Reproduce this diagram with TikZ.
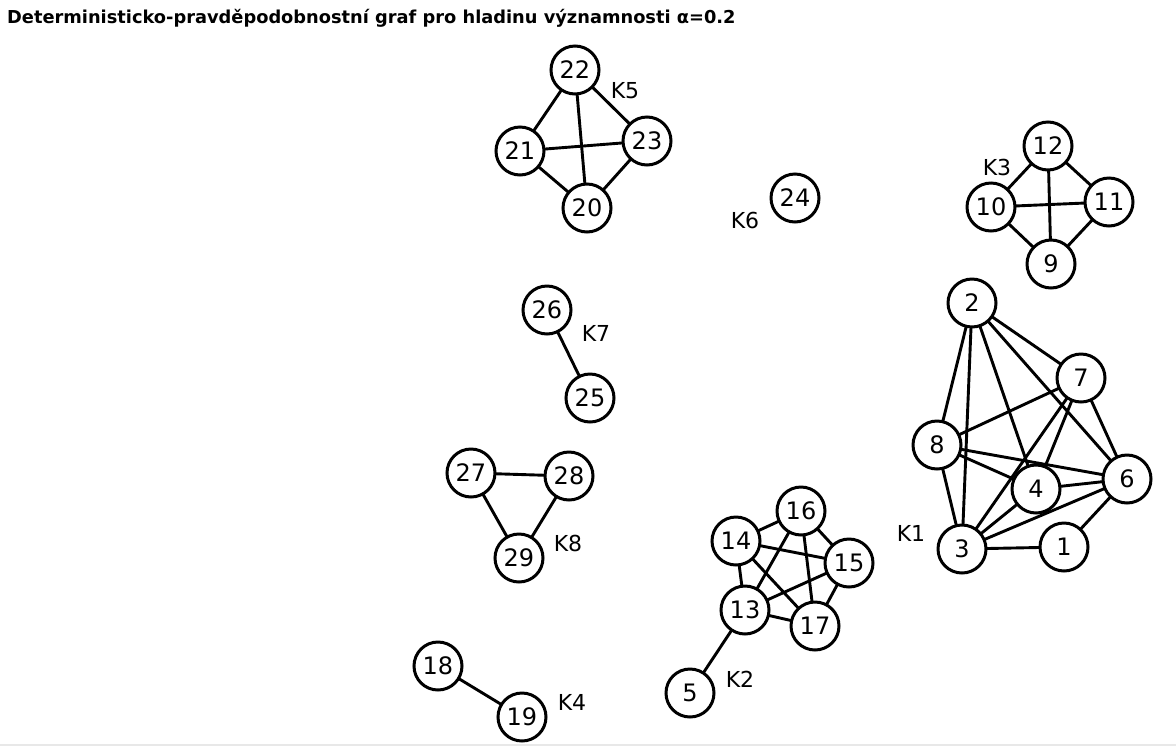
\documentclass[tikz,border=0pt]{standalone}
\usepackage{fontspec}
\setmainfont{DejaVu Sans}
\begin{document}
\begin{tikzpicture}[x=1pt,y=-1pt,
  vtx/.style={circle,draw=black,line width=3pt,fill=white,minimum size=48pt,inner sep=0pt,font=\fontsize{24}{26}\selectfont},
  lbl/.style={font=\fontsize{22}{24}\selectfont,inner sep=0pt},
  edge/.style={line width=2.9pt,black}]
\useasboundingbox (0,0) rectangle (1176,748);
\draw[line width=2pt,color=black!9] (0,745) -- (1176,745);
\node[anchor=west,inner sep=0pt,font=\fontsize{17.8}{19}\selectfont\bfseries] (title) at (7,18) {Deterministicko-pravděpodobnostní graf pro hladinu významnosti α=0.2};
% nodes
\foreach \n/\x/\y in {22/575/70,23/647/141,21/520/151,20/587/208,24/795/198,
  12/1048/146,11/1109/202,10/991/207,9/1051/264,
  2/972/303,7/1081/378,8/937/445,4/1036/489,6/1127/479,3/962/549,1/1064/547,
  26/547/310,25/590/398,27/471/473,28/569/476,29/519/558,
  16/801/511,14/736/541,15/849/563,13/745/610,17/815/626,5/690/693,
  18/438/666,19/522/717}
  \coordinate (c\n) at (\x,\y);
% labels
\node[lbl] (K5) at (625,91) {K5};
\node[lbl] (K3) at (997,167) {K3};
\node[lbl] (K6) at (745,220) {K6};
\node[lbl] (K7) at (596,333) {K7};
\node[lbl] (K1) at (911,533) {K1};
\node[lbl] (K8) at (568,543) {K8};
\node[lbl] (K2) at (740,679) {K2};
\node[lbl] (K4) at (572,702) {K4};
% edges
\foreach \a/\b in {22/21,22/23,22/20,21/23,21/20,23/20,
  12/10,12/11,12/9,10/11,10/9,11/9,
  26/25,27/28,27/29,28/29,18/19,
  5/13,14/16,14/15,14/13,14/17,16/15,16/13,16/17,15/13,15/17,13/17,
  2/8,2/3,2/4,2/6,2/7,7/8,7/3,7/4,7/6,8/6,8/4,8/3,4/6,4/3,3/6,3/1,1/6}
  \draw[edge] (c\a) -- (c\b);
\foreach \n in {22,23,21,20,24,12,11,10,9,2,7,8,4,6,3,1,26,25,27,28,29,16,14,15,13,17,5,18,19}
  \node[vtx] (v\n) at (c\n) {\n};
\end{tikzpicture}
\end{document}
